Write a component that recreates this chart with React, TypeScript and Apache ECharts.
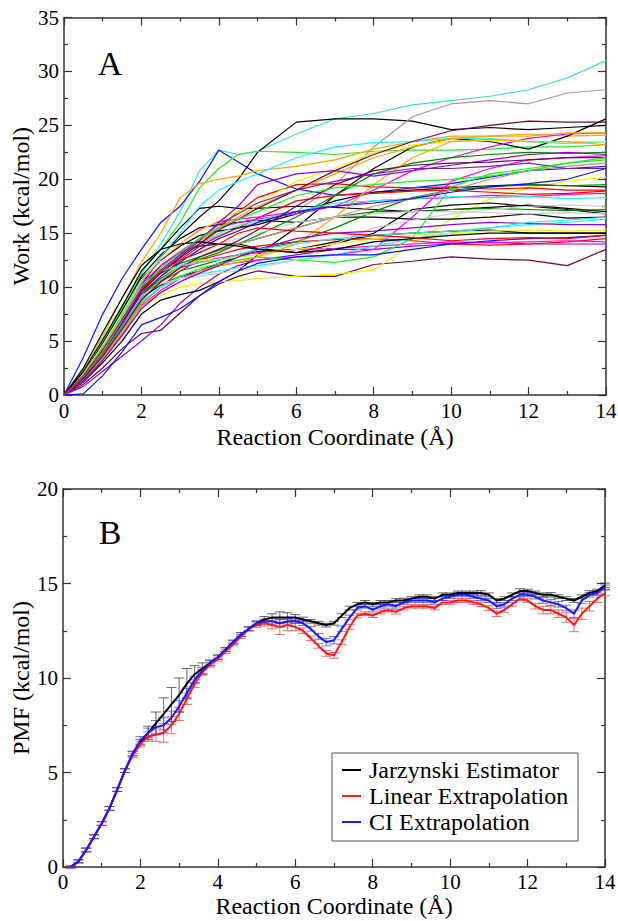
import React, { useEffect, useRef } from "react";
import * as echarts from "echarts";

// ---------- Panel A: work curves ----------
const X_A = [0, 0.5, 1, 1.5, 2, 2.5, 3, 3.5, 4, 4.5, 5, 6, 7, 8, 9, 10, 11, 12, 13, 14];

const WORK_Y: number[][] = [
  [0, 2.3, 5.2, 8.3, 11.2, 14, 17, 20.8, 22.7, 22.3, 22.6, 24.2, 25.6, 26.1, 26.9, 27.3, 27.7, 28.3, 29.4, 31.0],
  [0, 3.5, 7.5, 10.8, 13.5, 16, 17.5, 19.8, 22.7, 21.6, 20.5, 19.1, 18.5, 18.8, 19.2, 19.6, 20.2, 20.8, 21, 21.2],
  [0, 1.8, 4.2, 7, 10.2, 12.8, 14.8, 16.5, 18, 20, 22.5, 25.3, 25.6, 25.6, 25.4, 24.6, 24.8, 24.6, 24.8, 25.0],
  [0, 1.5, 3.8, 6.5, 9.5, 11.5, 13, 14, 14.8, 15.5, 16, 17, 19.5, 23, 25.8, 27, 27.3, 27, 28, 28.3],
  [0, 2, 4.8, 8, 11.5, 13.5, 16, 19.2, 21, 22.3, 22.6, 22.5, 22.3, 22.6, 22.7, 22.7, 22.8, 23, 23, 23.2],
  [0, 2.3, 5.5, 9, 12.3, 15, 18.3, 19.6, 20, 20.3, 20.8, 21.2, 21.8, 22.8, 23.5, 24, 24, 24.2, 24, 24.1],
  [0, 1, 2.5, 4.3, 5.7, 6, 7.6, 9.2, 10.3, 11, 11.5, 11, 11, 12.1, 12.4, 12.8, 12.6, 12.5, 12, 13.5],
  [0, 1.5, 3.5, 5.8, 8.2, 9.2, 10, 10.3, 10.5, 10.6, 10.8, 11, 11.2, 11.6, 14, 16.3, 18.2, 19.2, 19.8, 20.2],
  [0, 0.8, 2.2, 3.6, 5, 6.5, 8.5, 10, 11.2, 12, 12.5, 13, 13.5, 13.5, 13.8, 14, 14.2, 14, 14, 14],
  [0, 2.5, 5.8, 9, 12, 13.5, 15.5, 17.3, 17.5, 17.3, 17.3, 17.5, 17.4, 17.2, 17, 17.2, 17.4, 17.6, 17.3, 17],
  [0, 1.2, 3, 5, 7.5, 8.8, 9.3, 9.7, 10.5, 11.5, 13, 15.5, 18.5, 21, 23, 23.8, 23.5, 22.8, 24, 25.6],
  [0, 1.5, 3.8, 6.2, 9, 10.2, 11, 11.5, 12.2, 12.8, 13.3, 13.5, 14.2, 14.8, 15, 15.2, 15.3, 15, 15, 15],
  [0, 2, 4.8, 7.8, 11, 13, 14.5, 15.5, 15.8, 16, 16.2, 16, 16.5, 16.5, 16.3, 16.3, 16.5, 16.8, 16.4, 16.5],
  [0, 1.6, 4, 6.8, 10, 12, 13.2, 13.8, 14, 14, 13.6, 13.2, 14, 15, 17.2, 17.6, 17.8, 17.5, 17.2, 16.8],
  [0, 1.9, 4.5, 7.5, 10.8, 12.5, 13.8, 14.8, 15.2, 15.5, 15.8, 16.8, 18, 18.8, 19, 19.2, 19.4, 19.5, 19.4, 19.3],
  [0, 1.7, 4, 6.8, 9.5, 11.5, 13, 14, 15.5, 17, 18.3, 19.5, 19.6, 19.3, 19.2, 19.3, 19.1, 19.2, 19, 19],
  [0, 1.4, 3.5, 6, 8.5, 10, 11.5, 12.5, 13, 13.5, 13.8, 14.2, 14.4, 14.5, 14.3, 14, 13.9, 14, 14.2, 14.5],
  [0, 1.6, 3.9, 6.5, 9.2, 11, 12.5, 13.8, 14.7, 15.5, 16.4, 18, 18.5, 18.7, 18.9, 19, 18.8, 18.6, 18.7, 18.9],
  [0, 1.8, 4.3, 7.2, 10.3, 12, 13.3, 14.5, 15.5, 16, 16.3, 16.8, 17.5, 19, 20.8, 22, 23, 23.8, 24.2, 24.3],
  [0, 1.3, 3.3, 5.6, 8.3, 9.7, 10.8, 11.5, 12, 12.3, 12.5, 12.8, 13, 13.5, 16.5, 19.8, 21, 21.8, 22, 22.2],
  [0, 1.9, 4.5, 7.6, 10.5, 12.5, 14, 15.3, 16.1, 16.3, 16.5, 17, 17.5, 18, 18.2, 18.3, 18.5, 18.4, 18.6, 18.7],
  [0, 1.5, 3.6, 6.2, 9, 10.6, 11.8, 12.3, 12.7, 13, 13.2, 13.5, 13.6, 13.8, 14, 14.2, 14.1, 14.2, 14.3, 14.2],
  [0, 1.4, 3.4, 5.8, 8.5, 10, 11, 11.7, 12.2, 12.5, 12.8, 12.5, 12.3, 12.8, 14.5, 19.3, 20.5, 21, 21.5, 21.8],
  [0, 1.6, 3.8, 6.4, 9.2, 10.8, 12, 12.6, 13.2, 14, 14.8, 16.5, 18.5, 20.5, 21.5, 22, 22.3, 22.5, 22.4, 22.5],
  [0, 1.7, 4.1, 6.9, 9.7, 11.3, 12.2, 12.8, 13.4, 14, 14.5, 15.5, 16.5, 17, 17, 17.2, 17.3, 17.2, 17.1, 17.2],
  [0, 1.5, 3.7, 6.3, 9, 10.5, 11.5, 12, 12.5, 13, 13.5, 14.2, 15.5, 17, 18.3, 19, 19.3, 19.5, 19.4, 19.5],
  [0, 2, 4.6, 7.5, 10.5, 12.8, 15, 17.5, 19, 19.8, 20.5, 22, 23, 23.4, 23.5, 23.8, 23.8, 23.5, 23.3, 23.5],
  [0, 1.5, 3.6, 6, 8.7, 10, 10.8, 11.2, 11.5, 11.8, 12, 12.5, 13, 13.8, 14.5, 15, 15.5, 15.8, 16, 16.3],
  [0, 1.8, 4.3, 7, 9.8, 11.5, 12.8, 14, 15, 15.7, 16.2, 17, 17.8, 18, 18.2, 18.4, 18.3, 18.4, 18.2, 18.3],
  [0, 1.9, 4.6, 7.6, 10.7, 12.6, 14, 15.2, 16.2, 17, 17.8, 19.8, 21, 22.5, 23.2, 23.5, 23.6, 23.5, 23.5, 23.5],
  [0, 1.6, 3.9, 6.6, 9.5, 11, 12, 12.5, 12.5, 12.8, 13, 13.5, 14, 14.5, 14.8, 15, 15.2, 15.3, 15.2, 15.3],
  [0, 1.4, 3.4, 5.8, 8.2, 9.5, 10.5, 11.5, 12, 12.3, 12.8, 14, 16.5, 19.5, 22, 23.5, 23.7, 23.5, 23.5, 23.2],
  [0, 1.8, 4.2, 7, 9.9, 11.6, 13, 14.3, 15.5, 16.5, 17.5, 19, 20.5, 22, 23, 23.8, 24, 24, 24.3, 24.3],
  [0, 1.5, 3.7, 6.2, 9, 10.6, 11.8, 12.8, 13.5, 14, 14.5, 15.5, 16.5, 17.5, 18.2, 19, 20, 20.8, 21.2, 21.5],
  [0, 1.6, 3.9, 6.5, 9.2, 10.3, 10.8, 11, 11.3, 11.5, 11.8, 12.5, 14, 15.5, 16.2, 16.8, 17.2, 17.5, 17.6, 17.5],
  [0, 1.8, 4.3, 7.2, 10, 11.5, 12.5, 13.3, 14, 14.5, 15, 16, 16.5, 16.8, 17, 17, 16.9, 16.8, 16.9, 16.8],
  [0, 1.7, 4, 6.8, 9.7, 11.4, 12.8, 14.3, 16, 17.5, 19.5, 20.5, 20.8, 20.3, 20.8, 21.3, 21.8, 22.3, 22.5, 22.3],
  [0, 1.3, 3.2, 5.5, 8, 9.5, 10.5, 11.3, 12, 12.8, 13.5, 14.5, 15, 15.2, 15.5, 15.8, 16, 15.9, 15.8, 15.8],
  [0, 1.8, 4.2, 7, 9.8, 11.6, 13, 14.5, 15.8, 16.8, 17.8, 19, 19.8, 20.5, 21, 21, 21.2, 21.5, 21, 21],
  [0, 0.1, 1.8, 4, 6.5, 7.2, 8, 9.2, 10.5, 11.5, 12.2, 12.8, 13, 13, 13.5, 14, 14.3, 14.5, 14.6, 14.8],
  [0, 1.6, 3.9, 6.6, 9.4, 11, 12.3, 13.5, 14.5, 15.2, 16, 17, 17.5, 17.8, 18.2, 18.8, 19.3, 19.6, 20, 21],
  [0, 1.7, 4, 6.8, 9.6, 11.3, 12.7, 14, 15.3, 16.3, 17.3, 19, 20.8, 22.3, 23.5, 24.5, 25, 25.4, 25.3, 25.3],
  [0, 1.5, 3.6, 6.1, 8.8, 10.5, 11.8, 12.8, 13.5, 14.3, 15.3, 17.5, 19.5, 20.8, 21.3, 21.5, 21.6, 21.8, 22, 22],
  [0, 1.9, 4.4, 7.3, 10.2, 11.5, 12, 12.3, 12.5, 13, 13.5, 14, 14.5, 14.8, 15, 15.2, 15.5, 16, 16.2, 16.5],
  [0, 2.2, 5.1, 8.2, 11.5, 13.5, 14, 14.2, 14, 13.8, 13.5, 13.2, 13.5, 14.2, 14.5, 14.8, 15, 15, 15, 15],
  [0, 1.7, 4, 6.9, 9.9, 11.8, 13.2, 14.5, 15.5, 16.3, 17, 18.5, 19.2, 19.5, 19.8, 20, 20.3, 20.8, 21.5, 22],
  [0, 1.8, 4.2, 7, 9.9, 11.5, 12.5, 13.2, 14, 15, 15.5, 15.2, 15, 14.8, 14.6, 14.3, 14.5, 14.6, 14.5, 14.8],
];

const WORK_COLOR_KEYS = [
  "turquoise", "blue", "black", "brown", "green", "orange", "maroon", "yellow", "violet", "black",
  "black", "black", "black", "black", "black", "red", "red", "red", "magenta", "magenta",
  "magenta", "magenta", "green", "green4", "green4", "green4", "cyan", "cyan", "cyan", "yellow",
  "yellow", "orange", "orange", "brown", "grey", "grey", "violet", "violet", "indigo", "blue",
  "blue", "maroon", "maroon", "turquoise", "black", "green", "red",
];

const PALETTE: Record<string, string> = {
  black: "#000000",
  red: "#ff0000",
  green: "#22ee22",
  blue: "#1010ff",
  yellow: "#f2f000",
  brown: "#bc8f8f",
  grey: "#cfcfcf",
  violet: "#9400d3",
  cyan: "#22f5ff",
  magenta: "#ff00ff",
  orange: "#ffa500",
  indigo: "#7221bc",
  maroon: "#670748",
  turquoise: "#40e0d0",
  green4: "#008b00",
};

// ---------- Panel B: PMF ----------
const X_B = [
  0.2, 0.4, 0.6, 0.8, 1.0, 1.2, 1.4, 1.6, 1.8, 2.0,
  2.2, 2.4, 2.6, 2.8, 3.0, 3.2, 3.4, 3.6, 3.8, 4.0,
  4.2, 4.4, 4.6, 4.8, 5.0, 5.2, 5.4, 5.6, 5.8, 6.0,
  6.2, 6.4, 6.6, 6.8, 7.0, 7.2, 7.4, 7.6, 7.8, 8.0,
  8.2, 8.4, 8.6, 8.8, 9.0, 9.2, 9.4, 9.6, 9.8, 10.0,
  10.2, 10.4, 10.6, 10.8, 11.0, 11.2, 11.4, 11.6, 11.8, 12.0,
  12.2, 12.4, 12.6, 12.8, 13.0, 13.2, 13.4, 13.6, 13.8, 14.0,
];

const PMF_JARZYNSKI = [
  0, 0.3, 0.9, 1.6, 2.3, 3.1, 4.1, 5.1, 6.0, 6.6,
  7.1, 7.6, 8.1, 8.6, 9.1, 9.7, 10.2, 10.5, 10.8, 11.1,
  11.5, 11.9, 12.3, 12.6, 12.9, 13.1, 13.2, 13.2, 13.2, 13.2,
  13.1, 13.0, 12.9, 12.8, 12.9, 13.3, 13.7, 13.9, 14.0, 13.9,
  14.0, 14.0, 14.1, 14.1, 14.2, 14.3, 14.3, 14.2, 14.4, 14.4,
  14.5, 14.5, 14.5, 14.5, 14.4, 14.1, 14.2, 14.4, 14.6, 14.6,
  14.5, 14.4, 14.4, 14.3, 14.2, 14.1, 14.3, 14.5, 14.6, 14.9,
];
const PMF_LINEAR = [
  0, 0.3, 0.9, 1.6, 2.3, 3.1, 4.1, 5.1, 5.9, 6.5,
  6.9, 7.0, 7.1, 7.5, 8.1, 8.9, 9.7, 10.3, 10.7, 11.0,
  11.4, 11.8, 12.2, 12.6, 12.8, 12.9, 12.8, 12.7, 12.8, 12.7,
  12.5, 12.1, 11.7, 11.3, 11.2, 11.9, 12.7, 13.3, 13.4, 13.3,
  13.5, 13.6, 13.5, 13.7, 13.8, 13.8, 13.8, 13.7, 14.0, 14.0,
  14.1, 14.1, 14.0, 13.9, 13.7, 13.4, 13.6, 13.9, 14.2, 14.1,
  13.8, 13.6, 13.6, 13.4, 13.2, 12.8, 13.4, 13.8, 14.2, 14.5,
];
const PMF_CI = [
  0, 0.3, 0.9, 1.6, 2.3, 3.1, 4.1, 5.1, 6.0, 6.7,
  7.1, 7.4, 7.5, 7.9, 8.5, 9.2, 9.9, 10.4, 10.8, 11.1,
  11.5, 11.9, 12.3, 12.6, 12.9, 13.0, 13.0, 12.9, 13.0, 13.0,
  12.9, 12.6, 12.2, 11.9, 12.0, 12.6, 13.2, 13.7, 13.8, 13.6,
  13.8, 13.9, 13.8, 14.0, 14.1, 14.1, 14.1, 14.0, 14.2, 14.3,
  14.4, 14.4, 14.3, 14.2, 14.1, 13.8, 13.9, 14.2, 14.4, 14.4,
  14.3, 14.1, 14.0, 13.9, 13.7, 13.4, 14.1, 14.4, 14.5, 14.8,
];
const ERR_JARZYNSKI = [
  0.05, 0.08, 0.1, 0.1, 0.1, 0.1, 0.1, 0.1, 0.12, 0.15,
  0.35, 0.6, 0.85, 0.9, 0.9, 0.8, 0.45, 0.3, 0.15, 0.12,
  0.1, 0.1, 0.1, 0.1, 0.12, 0.15, 0.2, 0.3, 0.25, 0.15,
  0.12, 0.1, 0.1, 0.1, 0.1, 0.1, 0.1, 0.1, 0.1, 0.1,
  0.1, 0.1, 0.1, 0.12, 0.1, 0.1, 0.1, 0.1, 0.1, 0.1,
  0.1, 0.1, 0.1, 0.12, 0.1, 0.1, 0.1, 0.1, 0.12, 0.1,
  0.1, 0.1, 0.12, 0.1, 0.1, 0.1, 0.1, 0.12, 0.1, 0.12,
];
const ERR_LINEAR = [
  0.05, 0.08, 0.1, 0.1, 0.1, 0.1, 0.1, 0.1, 0.12, 0.15,
  0.25, 0.35, 0.5, 0.45, 0.35, 0.3, 0.2, 0.15, 0.12, 0.1,
  0.1, 0.1, 0.1, 0.1, 0.12, 0.15, 0.2, 0.4, 0.3, 0.2,
  0.15, 0.12, 0.12, 0.15, 0.15, 0.12, 0.12, 0.12, 0.1, 0.1,
  0.1, 0.1, 0.12, 0.1, 0.1, 0.1, 0.1, 0.1, 0.1, 0.1,
  0.1, 0.1, 0.1, 0.12, 0.12, 0.15, 0.12, 0.1, 0.1, 0.1,
  0.15, 0.2, 0.2, 0.2, 0.25, 0.35, 0.3, 0.25, 0.2, 0.15,
];
const ERR_CI = [
  0.05, 0.08, 0.1, 0.1, 0.1, 0.1, 0.1, 0.1, 0.12, 0.2,
  0.25, 0.35, 0.4, 0.35, 0.3, 0.25, 0.2, 0.15, 0.12, 0.1,
  0.1, 0.1, 0.1, 0.1, 0.1, 0.12, 0.15, 0.2, 0.15, 0.12,
  0.12, 0.12, 0.15, 0.2, 0.2, 0.15, 0.12, 0.1, 0.1, 0.1,
  0.1, 0.1, 0.1, 0.1, 0.1, 0.1, 0.1, 0.1, 0.1, 0.1,
  0.1, 0.1, 0.1, 0.1, 0.1, 0.12, 0.1, 0.1, 0.1, 0.1,
  0.12, 0.15, 0.15, 0.15, 0.15, 0.2, 0.15, 0.12, 0.12, 0.12,
];

const SERIES_NAMES = ["Jarzynski Estimator", "Linear Extrapolation", "CI Extrapolation"];
const X_TICKS = [0, 2, 4, 6, 8, 10, 12, 14];
const Y_TICKS_A = [0, 5, 10, 15, 20, 25, 30, 35];
const Y_TICKS_B = [0, 5, 10, 15, 20];
const X_TITLE = "Reaction Coordinate (Å)";
const Y_TITLE_A = "Work (kcal/mol)";
const Y_TITLE_B = "PMF (kcal/mol)";

const FONT = "\"Liberation Serif\", \"Times New Roman\", Tinos, \"DejaVu Serif\", serif";
const AXIS_COLOR = "#333333";

function makeAxis(extra: any) {
  return {
    type: "value",
    axisLine: { show: true, onZero: false, lineStyle: { color: AXIS_COLOR, width: 1.5 } },
    axisTick: { show: true, inside: true, length: 8, lineStyle: { color: AXIS_COLOR, width: 1.2 } },
    minorTick: { show: true, splitNumber: 2, length: 4, lineStyle: { color: AXIS_COLOR, width: 1.2 } },
    splitLine: { show: false },
    minorSplitLine: { show: false },
    axisLabel: { show: false },
    ...extra,
  };
}

function errorRender(color: string) {
  return (params: any, api: any) => {
    const x = api.value(0);
    const lo = api.value(1);
    const hi = api.value(2);
    const a = api.coord([x, hi]);
    const b = api.coord([x, lo]);
    const w = 5;
    const st = { stroke: color, lineWidth: 1 };
    return {
      type: "group",
      children: [
        { type: "line", shape: { x1: a[0], y1: a[1], x2: b[0], y2: b[1] }, style: st },
        { type: "line", shape: { x1: a[0] - w, y1: a[1], x2: a[0] + w, y2: a[1] }, style: st },
        { type: "line", shape: { x1: b[0] - w, y1: b[1], x2: b[0] + w, y2: b[1] }, style: st },
      ],
    };
  };
}

function txt(text: string, x: number, y: number, size: number, align: string, valign: string, rotation = 0) {
  return {
    type: "text",
    x,
    y,
    rotation,
    silent: true,
    z: 100,
    style: { text, font: `${size}px ${FONT}`, fill: "#000", textAlign: align, textVerticalAlign: valign },
  };
}

export default function App() {
  const ref = useRef<HTMLDivElement>(null);
  useEffect(() => {
    if (!ref.current) return;
    const chart = echarts.init(ref.current, null, { renderer: "svg" });

    const xA = { min: X_TICKS[0], max: X_TICKS[X_TICKS.length - 1], interval: 2 };

    const workSeries = WORK_Y.map((ys, i) => ({
      type: "line",
      xAxisIndex: 0,
      yAxisIndex: 0,
      showSymbol: false,
      symbol: "none",
      silent: true,
      lineStyle: { width: 1.2, color: PALETTE[WORK_COLOR_KEYS[i]] },
      data: ys.map((y, j) => [X_A[j], y]),
      z: 2,
    }));

    const pmf = [PMF_JARZYNSKI, PMF_LINEAR, PMF_CI];
    const errs = [ERR_JARZYNSKI, ERR_LINEAR, ERR_CI];
    const pmfColors = ["#000000", "#ff1a1a", "#1a1aff"];
    const errColors = ["rgba(40,40,40,0.7)", "rgba(240,60,60,0.75)", "rgba(60,60,255,0.7)"];

    const errSeries = pmf.map((vals, k) => ({
      type: "custom",
      xAxisIndex: 2,
      yAxisIndex: 2,
      silent: true,
      renderItem: errorRender(errColors[k]),
      encode: { x: 0, y: [1, 2] },
      data: vals.map((v, j) => [X_B[j], v - errs[k][j], v + errs[k][j]]),
      z: 3,
    }));

    const pmfSeries = pmf.map((vals, k) => ({
      type: "line",
      name: SERIES_NAMES[k],
      xAxisIndex: 2,
      yAxisIndex: 2,
      showSymbol: false,
      symbol: "none",
      silent: true,
      color: pmfColors[k],
      lineStyle: { width: 2, color: pmfColors[k] },
      data: vals.map((v, j) => [X_B[j], v]),
      z: 4,
    }));

    const gA = { left: 64, top: 17.5, width: 542, height: 377.5 };
    const gB = { left: 63, top: 489, width: 542, height: 378 };

    chart.setOption({
      animation: false,
      backgroundColor: "#ffffff",
      textStyle: { fontFamily: FONT },
      grid: [gA, gB],
      xAxis: [
        makeAxis({ gridIndex: 0, position: "bottom", ...xA }),
        makeAxis({ gridIndex: 0, position: "top", ...xA }),
        makeAxis({ gridIndex: 1, position: "bottom", ...xA }),
        makeAxis({ gridIndex: 1, position: "top", ...xA }),
      ],
      yAxis: [
        makeAxis({ gridIndex: 0, position: "left", min: 0, max: 35, interval: 5 }),
        makeAxis({ gridIndex: 0, position: "right", min: 0, max: 35, interval: 5 }),
        makeAxis({ gridIndex: 1, position: "left", min: 0, max: 20, interval: 5 }),
        makeAxis({ gridIndex: 1, position: "right", min: 0, max: 20, interval: 5 }),
      ],
      series: [...workSeries, ...errSeries, ...pmfSeries],
    });

    // Axis texts placed from the axes' own scales
    const g: any[] = [];
    X_TICKS.forEach((v) => {
      const xa = chart.convertToPixel({ xAxisIndex: 0 }, v) as number;
      const xb = chart.convertToPixel({ xAxisIndex: 2 }, v) as number;
      g.push(txt(String(v), xa, gA.top + gA.height + 16, 21, "center", "middle"));
      g.push(txt(String(v), xb, gB.top + gB.height + 15, 21, "center", "middle"));
    });
    Y_TICKS_A.forEach((v) => {
      const y = chart.convertToPixel({ yAxisIndex: 0 }, v) as number;
      g.push(txt(String(v), gA.left - 5, y, 21, "right", "middle"));
    });
    Y_TICKS_B.forEach((v) => {
      const y = chart.convertToPixel({ yAxisIndex: 2 }, v) as number;
      g.push(txt(String(v), gB.left - 5, y, 21, "right", "middle"));
    });
    g.push(txt(X_TITLE, gA.left + gA.width / 2, gA.top + gA.height + 42, 24, "center", "middle"));
    g.push(txt(X_TITLE, gB.left + gB.width / 2, gB.top + gB.height + 39, 24, "center", "middle"));
    g.push(txt(Y_TITLE_A, 21, gA.top + gA.height / 2, 24, "center", "middle", Math.PI / 2));
    g.push(txt(Y_TITLE_B, 21, gB.top + gB.height / 2, 24, "center", "middle", Math.PI / 2));
    g.push(txt("A", 110, 63, 34, "center", "middle"));
    g.push(txt("B", 110, 532, 34, "center", "middle"));

    // Legend box
    const lg = { left: 332, top: 753, width: 246, height: 88, row: 26 };
    g.push({
      type: "rect",
      silent: true,
      z: 99,
      shape: { x: lg.left, y: lg.top, width: lg.width, height: lg.height },
      style: { fill: "#ffffff", stroke: "#555555", lineWidth: 1 },
    });
    SERIES_NAMES.forEach((name, k) => {
      const y = lg.top + 17 + k * lg.row;
      g.push({
        type: "line",
        silent: true,
        z: 100,
        shape: { x1: lg.left + 10, y1: y, x2: lg.left + 29, y2: y },
        style: { stroke: pmfColors[k], lineWidth: 2 },
      });
      g.push(txt(name, lg.left + 37, y, 24, "left", "middle"));
    });

    chart.setOption({ graphic: g });

    return () => chart.dispose();
  }, []);

  return (
    <div
      ref={ref}
      style={{ position: "absolute", left: 0, top: 0, width: 618, height: 921, background: "#fff", fontFamily: FONT }}
    />
  );
}
